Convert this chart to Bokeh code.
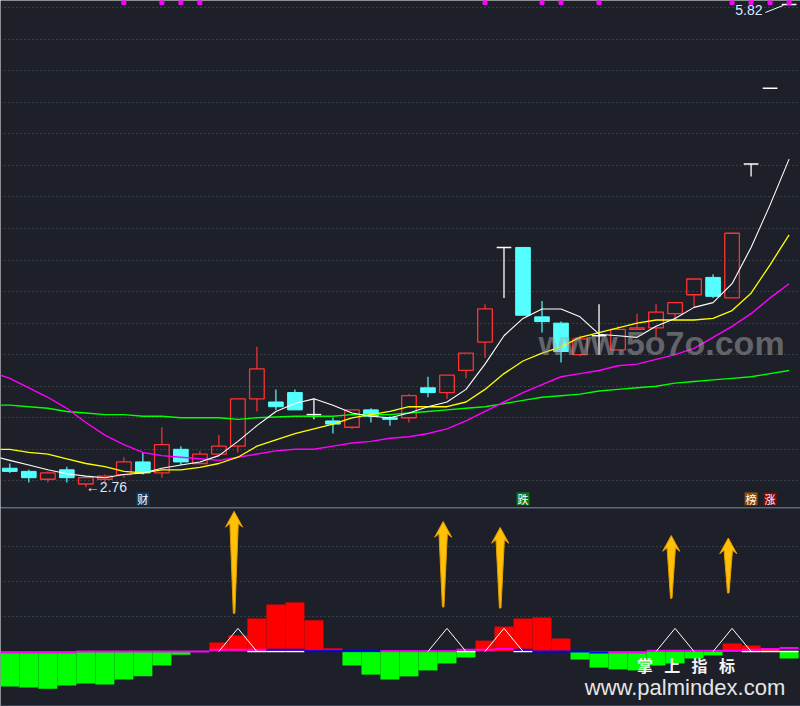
from bokeh.plotting import figure
from bokeh.layouts import column
from bokeh.models import FixedTicker, Span, Label, Range1d
from bokeh.core.properties import value
from bokeh.embed import file_html
from bokeh.resources import INLINE

BG = "#1d2028"
RED = "#ff3232"
CYAN = "#54ffff"

# ---------------- data ----------------
idx = list(range(42))
open_ = [2.88, 2.86, 2.81, 2.87, 2.78, 2.81, 2.84, 2.92, 2.85, 3.00,
         2.91, 2.97, 3.02, 3.32, 3.30, 3.36, 3.22, 3.18, 3.14, 3.25,
         3.20, 3.20, 3.39, 3.36, 3.50, 3.68, 4.28, 4.28, 3.84, 3.80,
         3.60, 3.72, 3.63, 3.76, 3.77, 3.86, 3.98, 4.09, 3.96, 4.81,
         5.29, 5.82]
high_ = [2.91, 2.87, 2.86, 2.89, 2.83, 2.84, 2.95, 2.98, 3.14, 3.02,
         2.99, 3.09, 3.32, 3.65, 3.38, 3.38, 3.32, 3.20, 3.25, 3.26,
         3.21, 3.35, 3.46, 3.47, 3.61, 3.92, 4.28, 4.28, 3.94, 3.81,
         3.72, 3.92, 3.78, 3.86, 3.92, 3.93, 4.08, 4.11, 4.37, 4.81,
         5.29, 5.82]
low_ = [2.85, 2.79, 2.79, 2.79, 2.76, 2.79, 2.82, 2.84, 2.82, 2.90,
        2.91, 2.97, 2.98, 3.24, 3.25, 3.25, 3.19, 3.10, 3.13, 3.17,
        3.15, 3.17, 3.33, 3.32, 3.45, 3.58, 3.96, 3.85, 3.74, 3.55,
        3.59, 3.60, 3.63, 3.76, 3.71, 3.82, 3.90, 3.96, 3.96, 4.73,
        5.29, 5.82]
close_ = [2.86, 2.82, 2.85, 2.82, 2.82, 2.83, 2.92, 2.85, 3.03, 2.92,
          2.97, 3.02, 3.32, 3.51, 3.27, 3.25, 3.22, 3.16, 3.25, 3.21,
          3.19, 3.34, 3.36, 3.47, 3.61, 3.89, 4.28, 3.85, 3.81, 3.62,
          3.70, 3.72, 3.76, 3.77, 3.87, 3.93, 4.08, 3.97, 4.37, 4.81,
          5.29, 5.82]

ma_idx = list(range(-1, 42))
ma5 = [2.96, 2.93, 2.90, 2.87, 2.845, 2.83, 2.82, 2.84, 2.85, 2.88, 2.90,
       2.92, 2.96, 3.05, 3.15, 3.24, 3.29, 3.32, 3.28, 3.23, 3.21, 3.20,
       3.23, 3.27, 3.30, 3.38, 3.54, 3.72, 3.83, 3.89, 3.89, 3.84, 3.73,
       3.72, 3.71, 3.78, 3.83, 3.90, 3.93, 4.05, 4.28, 4.55, 4.84]
ma10 = [3.00, 3.00, 2.98, 2.97, 2.94, 2.91, 2.89, 2.86, 2.85, 2.87, 2.87,
        2.885, 2.91, 2.95, 3.02, 3.06, 3.10, 3.13, 3.16, 3.20, 3.22, 3.24,
        3.27, 3.27, 3.27, 3.30, 3.38, 3.48, 3.56, 3.61, 3.65, 3.71, 3.74,
        3.77, 3.80, 3.82, 3.82, 3.82, 3.83, 3.88, 3.99, 4.17, 4.36]
ma30 = [3.49, 3.45, 3.39, 3.33, 3.26, 3.17, 3.09, 3.03, 2.98, 2.96, 2.95,
        2.94, 2.93, 2.95, 2.97, 2.99, 3.00, 3.00, 3.02, 3.04, 3.05, 3.07,
        3.08, 3.10, 3.13, 3.18, 3.24, 3.30, 3.36, 3.41, 3.46, 3.48, 3.50,
        3.53, 3.54, 3.57, 3.60, 3.64, 3.71, 3.78, 3.86, 3.96, 4.05]
ma60 = [3.28, 3.28, 3.27, 3.26, 3.24, 3.23, 3.22, 3.22, 3.21, 3.21, 3.20,
        3.20, 3.20, 3.19, 3.20, 3.205, 3.21, 3.21, 3.21, 3.22, 3.22, 3.22,
        3.23, 3.24, 3.25, 3.26, 3.27, 3.29, 3.31, 3.33, 3.34, 3.35, 3.37,
        3.38, 3.39, 3.40, 3.42, 3.43, 3.44, 3.45, 3.46, 3.48, 3.50]

grid_levels = [2.8, 3.0, 3.2, 3.4, 3.6, 3.8, 4.0, 4.2, 4.4, 4.6, 4.8,
               5.0, 5.2, 5.4, 5.6, 5.8]

signal_idx = [6, 8, 9, 10, 25, 28, 29, 31, 38, 39, 40, 41]

mark_idx = [7, 27, 39, 40]
mark_txt = ["财", "跌", "榜", "涨"]
mark_bg = ["#0c3a6c", "#0a7412", "#8a4c0e", "#780c0c"]

# lower indicator panel
osc = [-1.00, -1.03, -1.06, -0.97, -0.91, -0.94, -0.80, -0.71, -0.40, -0.09,
       0.0, 0.26, 0.46, 0.94, 1.34, 1.40, 0.89, 0.09, -0.40, -0.66,
       -0.80, -0.71, -0.54, -0.34, -0.17, 0.31, 0.71, 0.94, 0.97, 0.37,
       -0.23, -0.46, -0.51, -0.54, -0.40, -0.34, -0.20, -0.11, 0.23, 0.17,
       0.06, -0.20]
sig = [-0.03, -0.03, -0.03, -0.03, 0.0, 0.0, 0.0, 0.0, 0.0, 0.0, 0.0,
       0.05, 0.05, 0.05, 0.05, 0.05, 0.01, 0.01, 0.01, 0.01, 0.01, 0.01,
       0.01, 0.01, 0.05, 0.05, 0.07, 0.05, 0.0, 0.0, 0.0, -0.03, -0.03,
       -0.03, 0.02, 0.02, 0.02, 0.02, 0.02, 0.05, 0.07, 0.10]
sig_kind = [0] * 14 + [1] * 6 + [0] * 7 + [1] * 5 + [0] * 10
white_seg = [13, 14, 15, 24, 27, 39, 40, 41]
tri_idx = [12, 23, 26, 35, 38]
tri_h = 0.66
arrow_idx = [12, 23, 26, 35, 38]
arrow_lo = [1.09, 1.27, 1.24, 1.52, 1.67]
arrow_hi = [4.00, 3.71, 3.54, 3.31, 3.24]
sub_grid = [1, 2, 3]
brand_chars = ["掌", "上", "指", "标"]

# ---------------- layout ----------------
W = 800
H_MAIN = 507
H_SUB = 199
BODY_W = 0.77
GRID_COLOR = "#555a65"
GRID_DASH = "1 3"

xr = Range1d(-0.49, 41.6)

p = figure(width=W, height=H_MAIN, x_range=xr, y_range=Range1d(2.631, 5.846),
           x_axis_location=None, y_axis_location=None,
           output_backend="svg", toolbar_location=None, min_border=0,
           background_fill_color=BG, border_fill_color=BG, outline_line_color=None)
p.xgrid.visible = False
p.ygrid.ticker = FixedTicker(ticks=grid_levels)
p.ygrid.grid_line_color = GRID_COLOR
p.ygrid.grid_line_dash = GRID_DASH
p.ygrid.grid_line_width = 1

up = [i for i in idx if close_[i] > open_[i]]
dn = [i for i in idx if close_[i] < open_[i]]
eq = [i for i in idx if close_[i] == open_[i]]

def wick_parts(ids):
    x0, y0, y1 = [], [], []
    for i in ids:
        top = max(open_[i], close_[i])
        bot = min(open_[i], close_[i])
        if high_[i] > top:
            x0.append(i); y0.append(top); y1.append(high_[i])
        if low_[i] < bot:
            x0.append(i); y0.append(low_[i]); y1.append(bot)
    return x0, y0, y1

for ids, col in ((up, RED), (dn, CYAN)):
    wx, wy0, wy1 = wick_parts(ids)
    p.segment(x0=wx, x1=wx, y0=wy0, y1=wy1, line_color=col, line_width=1.2)

p.vbar(x=up, width=BODY_W, top=[close_[i] for i in up], bottom=[open_[i] for i in up],
       fill_color=None, line_color=RED, line_width=1.3)
p.vbar(x=dn, width=BODY_W, top=[open_[i] for i in dn], bottom=[close_[i] for i in dn],
       fill_color=CYAN, line_color=CYAN, line_width=1)
# doji (open == close) in white
p.segment(x0=eq, x1=eq, y0=[low_[i] for i in eq], y1=[high_[i] for i in eq],
          line_color="white", line_width=1.3)
p.segment(x0=[i - BODY_W / 2 for i in eq], x1=[i + BODY_W / 2 for i in eq],
          y0=[close_[i] for i in eq], y1=[close_[i] for i in eq],
          line_color="white", line_width=1.5)

# moving averages
p.line(ma_idx, ma60, line_color="#00ff00", line_width=1.4)
p.line(ma_idx, ma30, line_color="#ff00ff", line_width=1.4)
p.line(ma_idx, ma10, line_color="#ffff00", line_width=1.3)
p.line(ma_idx, ma5, line_color="#ffffff", line_width=1.1)

# signal squares at the top
sq_y = 5.834
p.scatter(x=signal_idx, y=[sq_y] * len(signal_idx), marker="square", size=4,
          fill_color="#ff00ff", line_color="#ff00ff")

# high / low annotations
hi_i = max(idx, key=lambda i: high_[i])
lo_i = min(idx, key=lambda i: low_[i])
p.text(x=[hi_i - 1.4], y=[high_[hi_i]], text=["%.2f" % high_[hi_i]],
       text_align="right", text_baseline="top", text_color="#dce6ff",
       text_font_size="14px", text_font=value("Liberation Sans"))
p.segment(x0=[hi_i - 1.25], y0=[high_[hi_i] - 0.05], x1=[hi_i - 0.3], y1=[high_[hi_i] - 0.005],
          line_color="white", line_width=1)
p.text(x=[lo_i], y=[low_[lo_i]], text=["\u2190%.2f" % low_[lo_i]],
       text_align="left", text_baseline="middle", text_color="#dce6ff",
       text_font_size="14px", text_font=value("Liberation Sans"))

# marker labels at the bottom of the price panel
mark_y = 2.686
p.rect(x=mark_idx, y=[mark_y] * len(mark_idx), width=13, height=13,
       width_units="screen", height_units="screen", fill_color=mark_bg, line_color=None)
p.text(x=mark_idx, y=[mark_y] * len(mark_idx), text=mark_txt, text_align="center",
       text_baseline="middle", text_color="white", text_font_size="11px",
       text_font=value("Noto Sans CJK SC"))

p.add_layout(Label(x=661, y=165, x_units="screen", y_units="screen", text="www.5o7o.com",
                   text_align="center", text_baseline="alphabetic", text_font_size="34px",
                   text_font_style="bold", text_color="#a8a8a8", text_alpha=0.5,
                   text_font="Liberation Sans"))

# ---------------- lower panel ----------------
q = figure(width=W, height=H_SUB, x_range=xr, y_range=Range1d(-1.57, 4.11),
           x_axis_location=None, y_axis_location=None,
           output_backend="svg", toolbar_location=None, min_border=0,
           background_fill_color=BG, border_fill_color=BG, outline_line_color=None)
q.xgrid.visible = False
q.ygrid.ticker = FixedTicker(ticks=sub_grid)
q.ygrid.grid_line_color = GRID_COLOR
q.ygrid.grid_line_dash = GRID_DASH

pos_i = [i for i in idx if osc[i] > 0]
neg_i = [i for i in idx if osc[i] < 0]
q.vbar(x=pos_i, width=1.0, top=[osc[i] for i in pos_i], bottom=0,
       fill_color="#ff0000", line_color=None)
q.vbar(x=neg_i, width=1.0, top=0, bottom=[osc[i] for i in neg_i],
       fill_color="#00ff00", line_color=None)

q.segment(x0=[i - 0.5 for i in white_seg], x1=[i + 0.5 for i in white_seg],
          y0=[0] * len(white_seg), y1=[0] * len(white_seg), line_color="white", line_width=1.5)
sig_colors = ["#ff00ff", "#0000ff"]
q.segment(x0=[i - 0.5 for i in idx], x1=[i + 0.5 for i in idx], y0=sig, y1=sig,
          line_color=[sig_colors[k] for k in sig_kind], line_width=2)

q.multi_line(xs=[[i - 1, i, i + 1] for i in tri_idx], ys=[[0, tri_h, 0] for _ in tri_idx],
             line_color="white", line_width=1)

ARROW_SHIFT = -0.2

def arrow_poly(c, lo, hi):
    c = c + ARROW_SHIFT
    xs = [c, c + 0.45, c + 0.22, c + 0.04, c - 0.04, c - 0.22, c - 0.45]
    ys = [hi, hi - 0.45, hi - 0.35, lo, lo, hi - 0.35, hi - 0.45]
    return xs, ys

axs, ays = [], []
for c, lo, hi in zip(arrow_idx, arrow_lo, arrow_hi):
    ax_, ay_ = arrow_poly(c, lo, hi)
    axs.append(ax_); ays.append(ay_)
q.patches(xs=axs, ys=ays, fill_color="#ffc107", line_color="#e39b00", line_width=1)

q.add_layout(Span(location=q.y_range.end, dimension="width", line_color="#3c4350", line_width=3))
q.add_layout(Span(location=q.y_range.start, dimension="width", line_color="#3c4350", line_width=3))

brand_x0 = 644.5
brand_pitch = 27.3
for k, ch in enumerate(brand_chars):
    q.add_layout(Label(x=brand_x0 + k * brand_pitch, y=42, x_units="screen", y_units="screen",
                       text=ch, text_align="center", text_baseline="middle",
                       text_font_size="16px", text_font_style="bold", text_color="#f2f2f2",
                       text_font="Noto Sans CJK SC"))
q.add_layout(Label(x=684.5, y=19, x_units="screen", y_units="screen", text="www.palmindex.com",
                   text_align="center", text_baseline="alphabetic", text_font_size="22px",
                   text_color="#e6e6e6", text_font="Liberation Sans"))

layout = column(p, q, spacing=0)
open("out.html", "w").write(file_html(layout, INLINE))
